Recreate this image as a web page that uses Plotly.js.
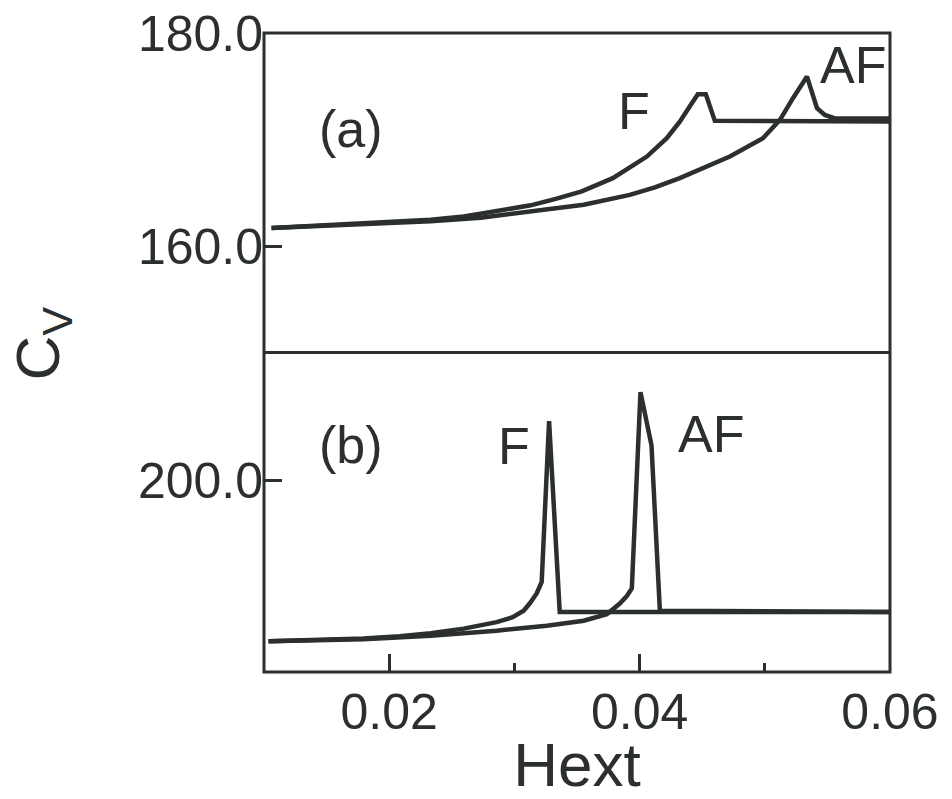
<!DOCTYPE html>
<html>
<head>
<meta charset="utf-8">
<script src="https://cdn.plot.ly/plotly-3.0.1.min.js"></script>
<style>html,body{margin:0;padding:0;background:#fff;}#chart{width:952px;height:799px;}</style>
</head>
<body>
<div id="chart"></div>
<script>
// Panel (a): Cv vs Hext
const aF_x  = [0.01060, 0.01795, 0.02331, 0.02595, 0.02882, 0.03130, 0.03330, 0.03538, 0.03786, 0.04058, 0.04217, 0.04321, 0.04417, 0.04465, 0.04529, 0.04601, 0.06000];
const aF_y  = [161.68, 162.08, 162.46, 162.77, 163.30, 163.82, 164.43, 165.13, 166.37, 168.40, 170.12, 171.68, 173.41, 174.25, 174.25, 171.75, 171.70];
const aAF_x = [0.01060, 0.01795, 0.02331, 0.02731, 0.03130, 0.03554, 0.03922, 0.04122, 0.04321, 0.04521, 0.04721, 0.04985, 0.05121, 0.05225, 0.05337, 0.05417, 0.05480, 0.05560, 0.06000];
const aAF_y = [161.68, 162.04, 162.32, 162.65, 163.21, 163.87, 164.80, 165.51, 166.37, 167.34, 168.40, 170.12, 171.84, 173.88, 175.91, 172.94, 172.31, 171.98, 171.98];
// Panel (b)
const bF_x  = [0.01036, 0.01795, 0.02083, 0.02331, 0.02595, 0.02858, 0.02986, 0.03074, 0.03122, 0.03178, 0.03218, 0.03277, 0.03362, 0.06000];
const bF_y  = [184.89, 185.15, 185.36, 185.64, 186.07, 186.68, 187.14, 187.75, 188.43, 189.37, 190.46, 205.56, 187.64, 187.64];
const bAF_x = [0.01036, 0.01795, 0.02331, 0.02858, 0.03258, 0.03554, 0.03738, 0.03842, 0.03898, 0.03938, 0.04007, 0.04095, 0.04162, 0.06000];
const bAF_y = [184.89, 185.08, 185.41, 185.88, 186.35, 186.82, 187.43, 188.43, 189.13, 189.85, 208.28, 203.28, 187.75, 187.64];

const xTicks = [0.02, 0.04, 0.06];
const xTickText = ['0.02', '0.04', '0.06'];
const xMinor = [0.03, 0.05];
const yaTicks = [160, 180];
const yaTickText = ['160.0', '180.0'];
const ybTicks = [200];
const ybTickText = ['200.0'];

const ink = '#2b2f2f';
const FONT = 'Liberation Sans, Arial, Helvetica, sans-serif';
const lineStyle = {color: ink, width: 4.5};

const traces = [
  {x: aF_x, y: aF_y, xaxis: 'x', yaxis: 'y', mode: 'lines', line: lineStyle, name: 'F (a)'},
  {x: aAF_x, y: aAF_y, xaxis: 'x', yaxis: 'y', mode: 'lines', line: lineStyle, name: 'AF (a)'},
  {x: bF_x, y: bF_y, xaxis: 'x', yaxis: 'y2', mode: 'lines', line: lineStyle, name: 'F (b)'},
  {x: bAF_x, y: bAF_y, xaxis: 'x', yaxis: 'y2', mode: 'lines', line: lineStyle, name: 'AF (b)'}
];

function ann(text, x, y, size) {
  return {text: text, x: x, y: y, xref: 'paper', yref: 'paper', showarrow: false,
          xanchor: 'center', yanchor: 'middle', font: {family: FONT, size: size, color: ink}};
}

const layout = {
  width: 952, height: 799,
  margin: {l: 264, r: 62, t: 33, b: 127},
  paper_bgcolor: '#fff', plot_bgcolor: '#fff',
  showlegend: false,
  font: {family: FONT, color: ink},
  xaxis: {
    anchor: 'y2', range: [0.01, 0.06], showgrid: false, zeroline: false, showline: false,
    tickmode: 'array', tickvals: xTicks, ticktext: xTickText,
    ticks: 'inside', ticklen: 18, tickwidth: 3, tickcolor: ink,
    minor: {tickmode: 'array', tickvals: xMinor, ticks: 'inside', ticklen: 9, tickwidth: 3, tickcolor: ink},
    tickfont: {family: FONT, size: 50, color: ink},
    ticklabelstandoff: 6,
    title: {text: 'Hext', font: {family: FONT, size: 62, color: ink}, standoff: 16}
  },
  yaxis: {
    domain: [0.5, 1], anchor: 'x', range: [150, 180], showgrid: false, zeroline: false, showline: false,
    tickmode: 'array', tickvals: yaTicks, ticktext: yaTickText,
    ticks: 'inside', ticklen: 18, tickwidth: 3, tickcolor: ink,
    tickfont: {family: FONT, size: 50, color: ink}
  },
  yaxis2: {
    domain: [0, 0.5], anchor: 'x', range: [182, 212], showgrid: false, zeroline: false, showline: false,
    tickmode: 'array', tickvals: ybTicks, ticktext: ybTickText,
    ticks: 'inside', ticklen: 18, tickwidth: 3, tickcolor: ink,
    tickfont: {family: FONT, size: 50, color: ink}
  },
  shapes: [
    {type: 'rect', xref: 'paper', yref: 'paper', x0: 0, x1: 1, y0: 0, y1: 1, line: {color: ink, width: 3}},
    {type: 'line', xref: 'paper', yref: 'paper', x0: 0, x1: 1, y0: 0.5, y1: 0.5, line: {color: ink, width: 3}}
  ],
  annotations: [
    ann('(a)', 0.1383, 0.8490, 52),
    ann('F', 0.5907, 0.8775, 52),
    ann('AF', 0.9408, 0.9495, 52),
    ann('(b)', 0.1383, 0.3560, 52),
    ann('F', 0.3989, 0.3530, 52),
    ann('AF', 0.7138, 0.3720, 52),
    Object.assign(ann('C<sub>V</sub>', -0.354, 0.5146, 62), {textangle: -90})
  ]
};

Plotly.newPlot('chart', traces, layout, {staticPlot: true, displayModeBar: false});
</script>
</body>
</html>
